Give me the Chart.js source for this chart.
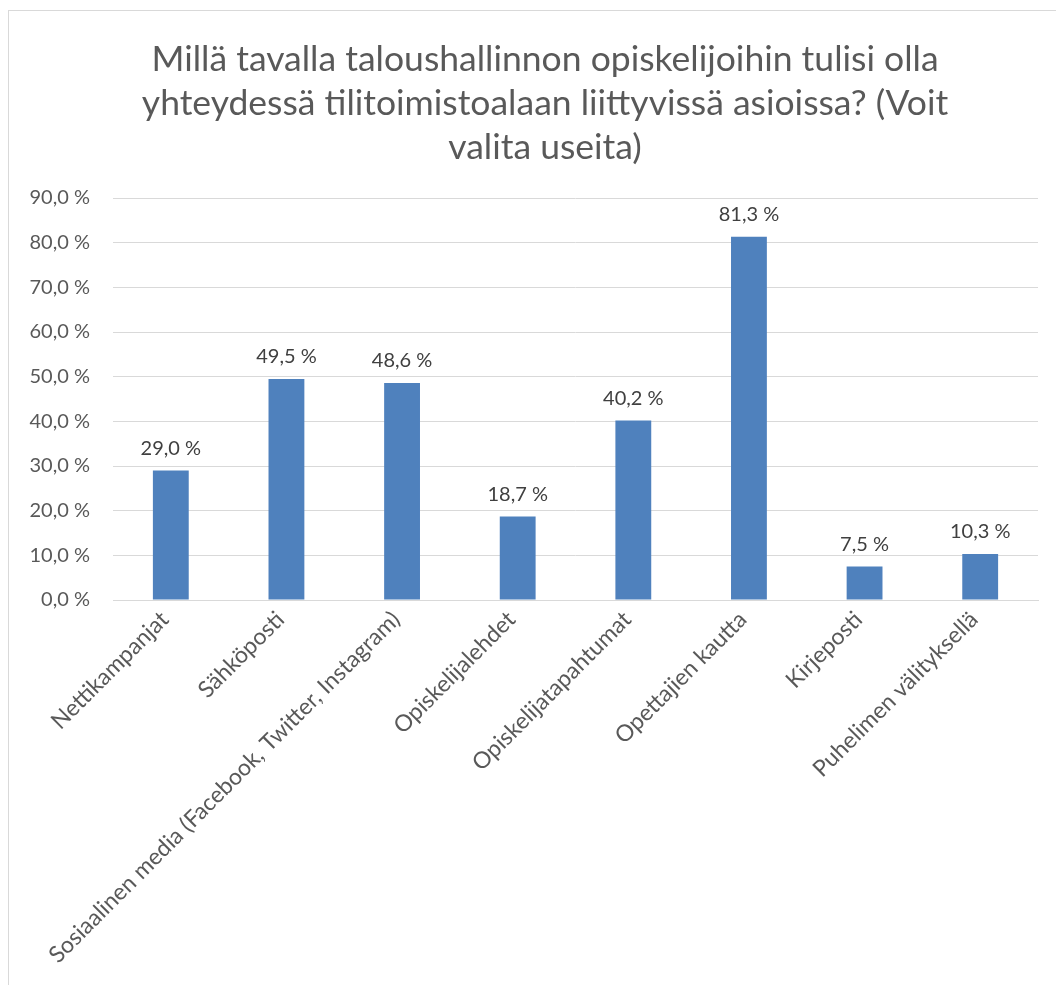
<!DOCTYPE html>
<html>
<head>
    <meta charset="UTF-8">
    <title>Yhteydenpito opiskelijoihin</title>
    <style>
        body {
            margin: 0;
            padding: 0;
            background-color: #fff;
            overflow: hidden;
        }

        #frame {
            position: absolute;
            left: 8px;
            top: 10px;
            width: 1100px;
            height: 1100px;
            border: 1px solid #d9d9d9;
        }

        #wrap {
            position: absolute;
            left: 0;
            top: 0;
            width: 1056px;
            height: 985px;
        }
    </style>
</head>
<body>
    <div id="frame"></div>
    <div id="wrap"><canvas id="myChart"></canvas></div>

    <script src="https://cdn.jsdelivr.net/npm/chart.js"></script>
    <script>
        var categories = ['Nettikampanjat', 'Sähköposti', 'Sosiaalinen media (Facebook, Twitter, Instagram)',
            'Opiskelijalehdet', 'Opiskelijatapahtumat', 'Opettajien kautta', 'Kirjeposti', 'Puhelimen välityksellä'];
        var values = [29.0, 49.5, 48.6, 18.7, 40.2, 81.3, 7.5, 10.3];
        var titleLines = ['Millä tavalla taloushallinnon opiskelijoihin tulisi olla',
            'yhteydessä tilitoimistoalaan liittyvissä asioissa? (Voit',
            'valita useita)'];

        var fontName = 'Lato';

        function pct(v) {
            return v.toFixed(1).replace('.', ',') + ' %';
        }

        // arvot pylväiden yläpuolelle
        var valueLabels = {
            id: 'valueLabels',
            afterDatasetsDraw: function(chart) {
                var ctx = chart.ctx;
                var meta = chart.getDatasetMeta(0);
                ctx.save();
                ctx.font = '20px ' + fontName;
                ctx.fillStyle = '#404040';
                ctx.textAlign = 'center';
                ctx.textBaseline = 'bottom';
                meta.data.forEach(function(bar, i) {
                    ctx.fillText(pct(values[i]), bar.x, bar.y - 12);
                });
                ctx.restore();
            }
        };

        // otsikko keskitetään koko kaaviokehyksen mukaan (kehys jatkuu ikkunan yli)
        var frameTitle = {
            id: 'frameTitle',
            afterDraw: function(chart) {
                var ctx = chart.ctx;
                var lh = 44;
                ctx.save();
                ctx.font = '35.5px ' + fontName;
                ctx.fillStyle = '#595959';
                ctx.textAlign = 'center';
                ctx.textBaseline = 'middle';
                titleLines.forEach(function(line, i) {
                    ctx.fillText(line, 545, 38 + lh / 2 + i * lh);
                });
                ctx.restore();
            }
        };

        var ctx = document.getElementById('myChart').getContext('2d');
        var chart = new Chart(ctx, {
            type: 'bar',
            data: {
                labels: categories,
                datasets: [{
                    data: values,
                    backgroundColor: '#4f81bd',
                    borderWidth: 0,
                    categoryPercentage: 1.0,
                    barPercentage: 0.31
                }]
            },
            options: {
                responsive: true,
                maintainAspectRatio: false,
                animation: false,
                layout: {
                    padding: { left: 0, right: 18, top: 198, bottom: 0 }
                },
                scales: {
                    x: {
                        grid: { display: false, drawTicks: false },
                        border: { color: '#d9d9d9', width: 1 },
                        ticks: {
                            color: '#595959',
                            font: { family: fontName, size: 23 },
                            minRotation: 45,
                            maxRotation: 45,
                            autoSkip: false,
                            padding: 6,
                            labelOffset: -6
                        },
                        afterFit: function(scale) { scale.height = 385; }
                    },
                    y: {
                        min: 0,
                        max: 90,
                        grid: { color: '#d9d9d9', drawTicks: false },
                        border: { display: false },
                        ticks: {
                            stepSize: 10,
                            color: '#595959',
                            font: { family: fontName, size: 20 },
                            padding: 23,
                            callback: function(v) { return pct(v); }
                        },
                        afterFit: function(scale) { scale.width = 113; }
                    }
                },
                plugins: {
                    legend: { display: false },
                    tooltip: { enabled: false },
                    title: { display: false }
                }
            },
            plugins: [valueLabels, frameTitle]
        });
    </script>
</body>
</html>
